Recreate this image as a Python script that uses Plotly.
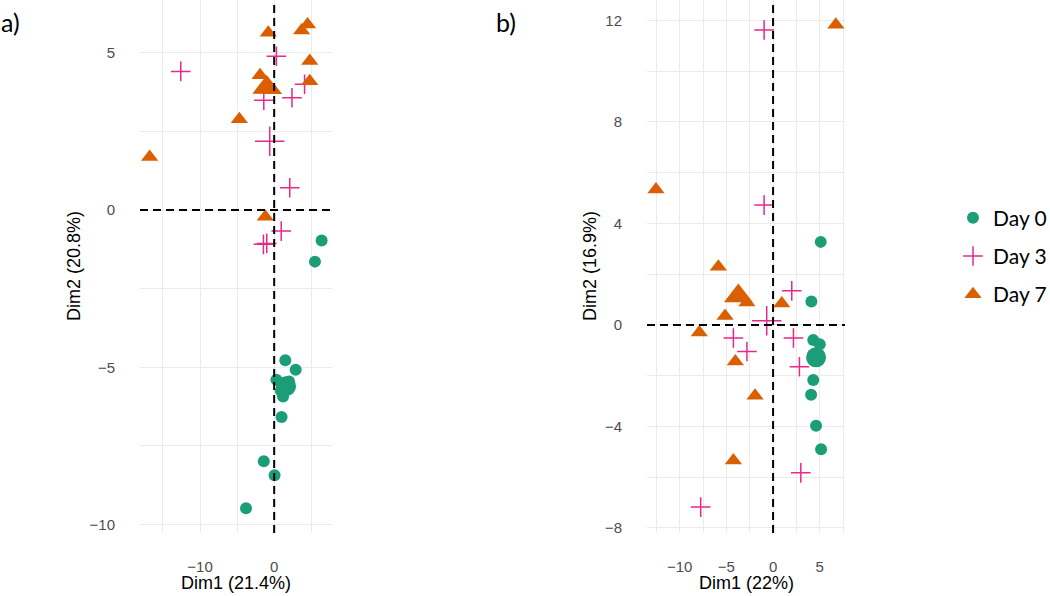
import plotly.graph_objects as go

# ---------------- data ----------------
groups = ["Day 0", "Day 3", "Day 7"]

# Panel a)
a_day0_x = [6.4, 5.5, 1.5, 2.9, 0.3, 1.2, 1.0, -1.4, 0.05, -3.8, 0.9, 2.0]
a_day0_y = [-0.97, -1.64, -4.78, -5.08, -5.4, -5.93, -6.58, -7.99, -8.43, -9.48, -5.75, -5.45]
a_day3_x = [-12.6, 0.3, 4.1, -1.4, 2.4, 2.1, 0.95, -1.45, -1.0]
a_day3_y = [4.41, 4.89, 4.0, 3.49, 3.57, 0.71, -0.67, -1.09, -1.06]
a_day7_x = [4.5, 3.7, -0.8, 4.8, 4.8, -1.9, -0.1, -1.4, -4.7, -16.8, -1.2]
a_day7_y = [5.9, 5.71, 5.64, 4.74, 4.1, 4.29, 3.81, 3.83, 2.89, 1.69, -0.21]
a_centroid_x = [1.6, -0.6, -1.0]
a_centroid_y = [-5.6, 2.19, 3.9]

# Panel b)
b_day0_x = [5.1, 4.1, 4.3, 5.0, 4.3, 4.07, 4.6, 5.14]
b_day0_y = [3.27, 0.92, -0.6, -0.76, -2.17, -2.75, -3.97, -4.9]
b_day3_x = [-0.96, -0.96, 2.0, 2.18, -4.25, -2.8, 2.82, 2.97, -7.75]
b_day3_y = [11.62, 4.72, 1.34, -0.52, -0.52, -1.05, -1.65, -5.83, -7.18]
b_day7_x = [6.72, -12.54, -5.86, -2.8, 0.93, -5.14, -7.9, -4.04, -1.93, -4.25]
b_day7_y = [11.82, 5.33, 2.29, 0.88, 0.84, 0.35, -0.3, -1.44, -2.79, -5.34]
b_centroid_x = [4.6, -0.68, -3.72]
b_centroid_y = [-1.28, 0.16, 1.14]

a_x_ticks = [-10, 0]
a_y_ticks = [-10, -5, 0, 5]
b_x_ticks = [-10, -5, 0, 5]
b_y_ticks = [-8, -4, 0, 4, 8, 12]

# ---------------- styles ----------------
colors = {"Day 0": "#1B9E77", "Day 3": "#E7298A", "Day 7": "#D95F02"}
symbols = {"Day 0": "circle", "Day 3": "cross-thin", "Day 7": "triangle-up"}
sizes = {"Day 0": 12, "Day 3": 14, "Day 7": 15}
big_sizes = {"Day 0": 20, "Day 3": 21, "Day 7": 25}


def marker(g, size):
    if g == "Day 3":
        return dict(symbol=symbols[g], size=size, color=colors[g],
                    line=dict(color=colors[g], width=1.5))
    return dict(symbol=symbols[g], size=size, color=colors[g], line=dict(width=0))


fig = go.Figure()

panels = [
    ("x", "y", [(a_day0_x, a_day0_y), (a_day3_x, a_day3_y), (a_day7_x, a_day7_y)],
     a_centroid_x, a_centroid_y, True),
    ("x2", "y2", [(b_day0_x, b_day0_y), (b_day3_x, b_day3_y), (b_day7_x, b_day7_y)],
     b_centroid_x, b_centroid_y, False),
]

for xa, ya, series, cx, cy, show in panels:
    for i, g in enumerate(groups):
        xs, ys = series[i]
        fig.add_trace(go.Scatter(
            x=xs, y=ys, mode="markers", name=g, legendgroup=g,
            showlegend=show, marker=marker(g, sizes[g]),
            xaxis=xa, yaxis=ya, hoverinfo="x+y+name"))
        fig.add_trace(go.Scatter(
            x=[cx[i]], y=[cy[i]], mode="markers", name=g, legendgroup=g,
            showlegend=False, marker=marker(g, big_sizes[g]),
            xaxis=xa, yaxis=ya, hoverinfo="x+y+name"))

W, H = 1050, 596
grid = "#EBEBEB"
tickfont = dict(family="Liberation Sans, Arial, sans-serif", size=15, color="#4D4D4D")


def axis(domain, rng, ticks, minor_dtick, standoff):
    return dict(
        domain=domain, range=rng, tickvals=ticks, showgrid=True,
        gridcolor=grid, gridwidth=1.1, zeroline=False, showline=False,
        ticks="", tickfont=tickfont, ticklabelstandoff=standoff,
        automargin=False,
        minor=dict(showgrid=True, gridcolor=grid, gridwidth=0.6,
                   dtick=minor_dtick, tick0=0, ticks=""),
        fixedrange=True,
    )


ydom = [1 - 533 / H, 1.0]
fig.update_layout(
    width=W, height=H,
    margin=dict(l=0, r=0, t=0, b=0, autoexpand=False),
    paper_bgcolor="white", plot_bgcolor="white",
    xaxis=dict(**axis([140 / W, 332 / W], [-18.1, 7.8], a_x_ticks, 5, 23), anchor="y"),
    yaxis=dict(**axis(ydom, [-10.27, 6.68], a_y_ticks, 2.5, 24), anchor="x"),
    xaxis2=dict(**axis([647 / W, 845 / W], [-13.5, 7.7], b_x_ticks, 2.5, 23), anchor="y2"),
    yaxis2=dict(**axis(ydom, [-8.2, 12.8], b_y_ticks, 2, 24), anchor="x2"),
    legend=dict(
        x=953 / W, y=1 - 256 / H, xanchor="left", yanchor="middle",
        font=dict(family="Lato, Open Sans, sans-serif", size=21, color="black"),
        tracegroupgap=8, bgcolor="rgba(0,0,0,0)",
    ),
    showlegend=True,
)

# reference dashed lines at 0
for xa, ya in [("x", "y"), ("x2", "y2")]:
    fig.add_shape(type="line", xref=xa, yref=f"{ya} domain", x0=0, x1=0, y0=0, y1=1,
                  line=dict(color="black", width=2, dash="8px,5px"), layer="above")
    fig.add_shape(type="line", xref=f"{xa} domain", yref=ya, x0=0, x1=1, y0=0, y1=0,
                  line=dict(color="black", width=2, dash="8px,5px"), layer="above")

title_font = dict(family="Liberation Sans, Arial, sans-serif", size=18, color="black")
annots = [
    ("Dim1 (21.4%)", 236, 583, 0),
    ("Dim1 (22%)", 746, 583, 0),
    ("Dim2 (20.8%)", 74, 266, -90),
    ("Dim2 (16.9%)", 590, 266, -90),
]
for text, px, py, ang in annots:
    fig.add_annotation(text=text, x=px / W, y=1 - py / H, xref="paper", yref="paper",
                       xanchor="center", yanchor="middle", showarrow=False,
                       textangle=ang, font=title_font)

panel_font = dict(family="Lato, Open Sans, sans-serif", size=25, color="black")
for text, px, py in [("a)", 10, 22), ("b)", 506, 22)]:
    fig.add_annotation(text=text, x=px / W, y=1 - py / H, xref="paper", yref="paper",
                       xanchor="center", yanchor="middle", showarrow=False, font=panel_font)

fig.write_html("out.html", config={"displayModeBar": False},
               post_script="document.body.style.margin='0';")
